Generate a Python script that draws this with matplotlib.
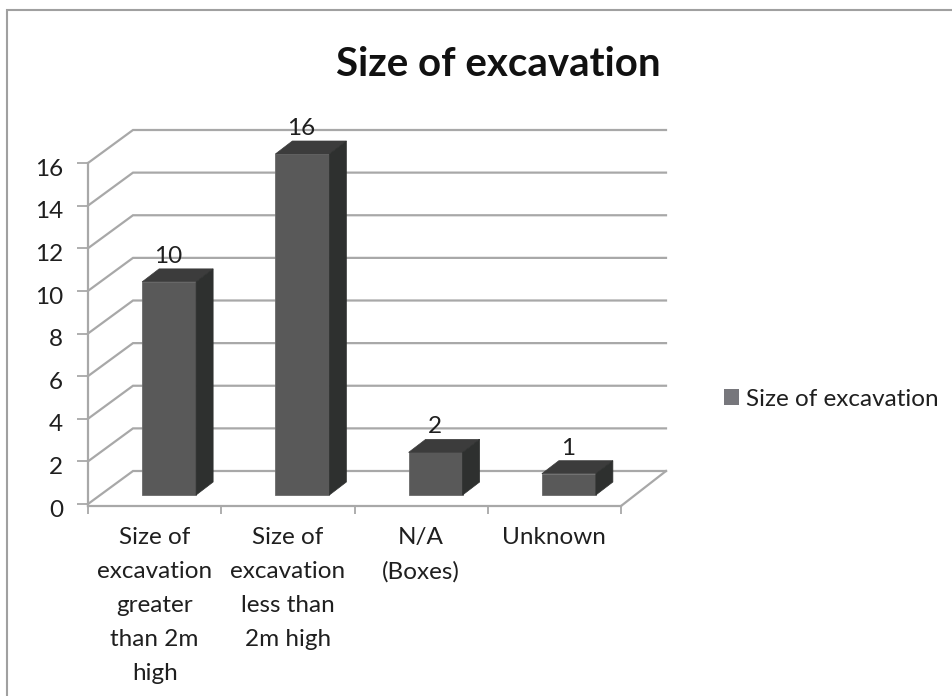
import matplotlib
matplotlib.use("Agg")
import matplotlib.pyplot as plt
from matplotlib.patches import Patch, Rectangle
from matplotlib.transforms import ScaledTranslation

plt.rcParams['font.family'] = ['Lato', 'DejaVu Sans']

# Data
title = "Size of excavation"
categories = ["Size of\nexcavation\ngreater\nthan 2m\nhigh", "Size of\nexcavation\nless than\n2m high", "N/A\n(Boxes)", "Unknown"]
values = [10, 16, 2, 1]
y_ticks = [0, 2, 4, 6, 8, 10, 12, 14, 16]

W, H = 952, 696
GRID = "#a8a8a8"
TEXT = "#1f1f1f"
LABEL_SIZE = 17.5

fig = plt.figure(figsize=(W / 100, H / 100), dpi=100, facecolor="white")

# Outer chart frame, runs off the right and bottom of the image
fig.add_artist(Rectangle((7 / W, -0.05), 1.05, 1.05 - 10 / H, transform=fig.transFigure,
                         fill=False, edgecolor="#a0a0a0", linewidth=1.5))

# x: one unit per category, y: chart value
ax = fig.add_axes([88 / W, 1 - 504 / H, 533 / W, 341 / H])
ax.set_xlim(0, 4)
ax.set_ylim(0, 16)
ax.patch.set_alpha(0)

x_unit = 533 / 4
y_unit = 341 / 16

# 3D look: offset of the back wall and of the bar depth, in data units
wall_dx = 45 / x_unit
wall_dy = 33 / y_unit
bar_dx = 17 / x_unit
bar_dy = 13 / y_unit
bar_width = 54 / x_unit
bar_shift = 14.5 / x_unit
bar_lift = 9 / y_unit
floor_y = -2 / y_unit

# Walls and floor
for v in y_ticks:
    ax.plot([0, wall_dx, 4 + wall_dx], [v, v + wall_dy, v + wall_dy], color=GRID,
            linewidth=1.6, clip_on=False, zorder=1, solid_joinstyle="miter")
ax.plot([4 + wall_dx, 4], [wall_dy, floor_y], color=GRID, linewidth=1.6, clip_on=False, zorder=1)

# Bars
centers = [i + 0.5 + bar_shift for i in range(len(values))]
ax.bar(centers, values, width=bar_width, bottom=bar_lift, color="#595959",
       edgecolor="#6a6a6a", linewidth=0.6, clip_on=False, zorder=3)
for c, v in zip(centers, values):
    left, right = c - bar_width / 2, c + bar_width / 2
    top = bar_lift + v
    ax.fill([left, right, right + bar_dx, left + bar_dx],
            [top, top, top + bar_dy, top + bar_dy],
            color="#3c3c3c", linewidth=0.5, clip_on=False, zorder=3)
    ax.fill([right, right + bar_dx, right + bar_dx, right],
            [bar_lift, bar_lift + bar_dy, top + bar_dy, top],
            color="#2e302f", linewidth=0.5, clip_on=False, zorder=3)
    ax.text(c - 1 / x_unit, top + 19 / y_unit, str(v), ha="center", va="baseline", fontsize=LABEL_SIZE,
            color=TEXT, zorder=4)

# Axes
for side in ("top", "right"):
    ax.spines[side].set_visible(False)
ax.spines["left"].set_color(GRID)
ax.spines["left"].set_linewidth(1.6)
ax.spines["left"].set_bounds(floor_y, 16)
ax.spines["bottom"].set_color(GRID)
ax.spines["bottom"].set_linewidth(1.6)
ax.spines["bottom"].set_position(("data", floor_y))
ax.set_yticks(y_ticks)
ax.tick_params(axis="y", length=8, width=1.3, color=GRID, labelsize=LABEL_SIZE, labelcolor=TEXT, pad=10)
ax.set_xticks(range(5), minor=True)
ax.set_xticks([i + 0.5 for i in range(4)])
ax.set_xticklabels(categories, linespacing=1.77)
ax.tick_params(axis="x", which="minor", length=6, width=1.3, color=GRID)
ax.tick_params(axis="x", which="major", length=0, labelsize=LABEL_SIZE, labelcolor=TEXT, pad=15)

# Value labels sit a little below their ticks in the original
for label in ax.get_yticklabels():
    label.set_transform(label.get_transform() + ScaledTranslation(0, -3 / 72, fig.dpi_scale_trans))

fig.text(498.5 / W, 1 - 64 / H, title, ha="center", va="center", fontsize=29, fontweight="bold", color="#111111")

fig.legend(handles=[Patch(facecolor="#77777c", label="Size of excavation")], loc="center left",
           bbox_to_anchor=(724 / W, 1 - 399 / H), frameon=False, fontsize=LABEL_SIZE, labelcolor=TEXT,
           handlelength=0.62, handleheight=0.62, handletextpad=0.29, borderpad=0, borderaxespad=0)

plt.savefig("out.png", dpi=100)
plt.close()
